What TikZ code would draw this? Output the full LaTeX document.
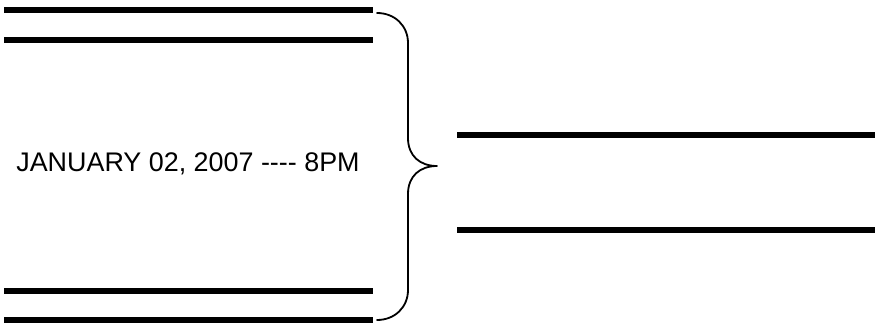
\documentclass[tikz,border=0pt]{standalone}
\usepackage{fontspec}
\setmainfont{Liberation Sans}
\usetikzlibrary{positioning}
\tikzset{
	thickline/.style={line width=6pt},
	curly/.style={line width=1.8pt, line cap=round, line join=round}
}
\begin{document}
\begin{tikzpicture}[x=1pt,y=-1pt]
		\useasboundingbox (0,0) rectangle (875,323);
		
		% lines on the left
		\foreach \y in {10,40,291,320} {
			\draw[thickline] (4,\y) -- (373,\y);
		}
		
		% lines on the right
		\foreach \y in {135,230} {
			\draw[thickline] (457,\y) -- (875,\y);
		}
		
		\node (date) at (188,164) {\fontsize{26.9}{32}\selectfont JANUARY 02, 2007 -{}-{}-{}- 8PM};
		
		% the brace
		\coordinate (top) at (377,13);
		\coordinate (tip) at (437,166);
		\coordinate (bottom) at (377,320);
		\draw[curly] (top) .. controls (395,13) and (408,26) .. (408,43)
			-- (408,138) .. controls (408,156) and (420,166) .. (tip)
			.. controls (420,166) and (408,176) .. (408,194)
			-- (408,290) .. controls (408,307) and (395,320) .. (bottom);
		
	\end{tikzpicture}
\end{document}
